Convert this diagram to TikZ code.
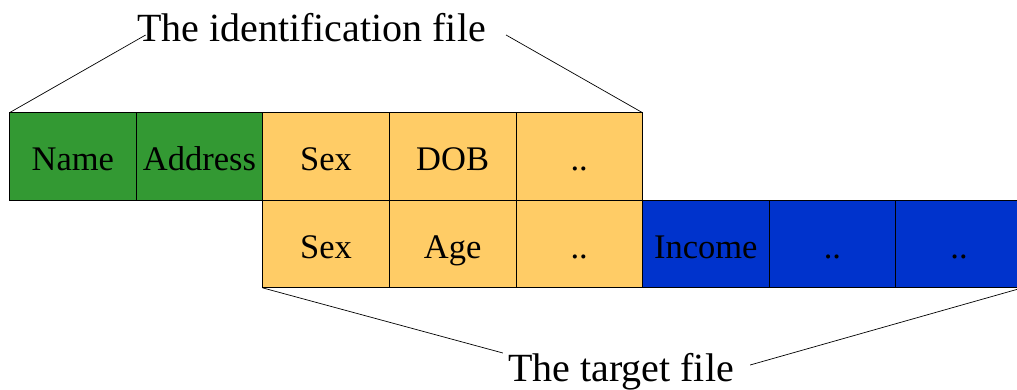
\documentclass[tikz,border=0pt]{standalone}
\usepackage{fontspec}
\setmainfont{Liberation Serif}
\usepackage{xcolor}
\usepackage{tikz}
\usetikzlibrary{positioning}

\definecolor{idgreen}{RGB}{51,153,51}
\definecolor{shared}{RGB}{255,204,102}
\definecolor{tgblue}{RGB}{0,51,204}

\begin{document}
\begin{tikzpicture}[
  cell/.style={
    draw,
    line width=0.8pt,
    minimum width=126.6pt,
    minimum height=87.6pt,
    inner sep=0pt,
    outer sep=0pt,
    text height=29pt,
    text depth=1pt,
    font=\fontsize{34.5}{40}\selectfont
  },
  idcell/.style={cell, fill=idgreen},
  sharedcell/.style={cell, fill=shared},
  tgcell/.style={cell, fill=tgblue},
  filelabel/.style={anchor=base, inner sep=0pt, font=\fontsize{40}{48}\selectfont},
  brace/.style={line width=0.7pt}
]
\clip (0,0) rectangle (1017pt,390pt);

\node[idcell, anchor=north west] (name) at (9.5pt,277.3pt) {Name};
\node[idcell, right=0pt of name] (address) {Address};
\node[sharedcell, right=0pt of address] (sexA) {Sex};
\node[sharedcell, right=0pt of sexA] (dob) {DOB};
\node[sharedcell, right=0pt of dob] (moreA) {..};

\node[sharedcell, below=0pt of sexA] (sexB) {Sex};
\node[sharedcell, right=0pt of sexB] (age) {Age};
\node[sharedcell, right=0pt of age] (moreB) {..};
\node[tgcell, right=0pt of moreB] (income) {Income};
\node[tgcell, right=0pt of income] (moreC) {..};
\node[tgcell, right=0pt of moreC] (moreD) {..};

\node[filelabel] (idfile) at (311.5pt,348pt) {The identification file};
\node[filelabel] (tgfile) at (621pt,8pt) {The target file};

\coordinate (idL) at ([shift={(8.7pt,7pt)}]idfile.base west);
\coordinate (idR) at ([shift={(20pt,7pt)}]idfile.base east);
\coordinate (tgL) at ([shift={(-5pt,29pt)}]tgfile.base west);
\coordinate (tgR) at ([shift={(16pt,17pt)}]tgfile.base east);

\draw[brace] (name.north west) -- (idL);
\draw[brace] (idR) -- (moreA.north east);
\draw[brace] (sexB.south west) -- (tgL);
\draw[brace] (tgR) -- (moreD.south east);
\end{tikzpicture}
\end{document}
